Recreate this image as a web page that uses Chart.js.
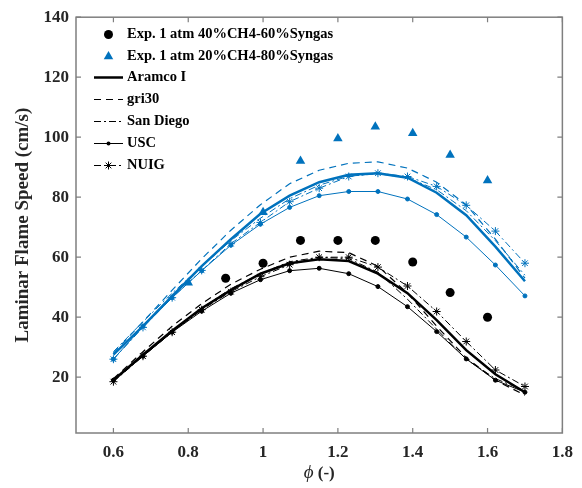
<!DOCTYPE html>
<html lang="en">
<head>
  <meta charset="UTF-8">
  <title>Laminar Flame Speed</title>
  <script src="https://cdn.jsdelivr.net/npm/chart.js"></script>
  <style>
    body {
      margin: 0;
      padding: 0;
      background-color: white;
    }
    #chartBox {
      width: 582px;
      height: 488px;
    }
  </style>
</head>
<body>

<div id="chartBox">
  <canvas id="flameChart" width="582" height="488"></canvas>
</div>

<script>
  // equivalence ratios of the model runs
  var phi = [0.6, 0.679, 0.757, 0.836, 0.914, 0.993, 1.071, 1.15, 1.229, 1.307, 1.386, 1.464, 1.543, 1.621, 1.7];

  // 40%CH4-60%Syngas (black)
  var aramco40 = [19, 27.5, 35.5, 43, 49, 54.5, 58, 59.3, 58.7, 54.5, 48, 39, 29, 21, 15];
  var gri40 = [19.5, 28.5, 37, 44.5, 51, 56, 60, 62, 61.5, 57, 48, 37, 26.5, 19, 14];
  var sanDiego40 = [19, 27.5, 35.5, 43, 49.5, 54.5, 58.5, 60, 59.5, 55, 46, 36, 26, 19.5, 15.5];
  var usc40 = [19, 27, 35, 42, 48, 52.5, 55.5, 56.3, 54.5, 50.2, 43.5, 35.2, 26.1, 19, 15];
  var nuig40 = [18.5, 27, 35, 42.5, 48.5, 53.5, 57.5, 60, 60, 56.7, 50.4, 41.9, 31.9, 22.4, 16.9];

  // 20%CH4-80%Syngas (blue)
  var aramco20 = [27.5, 37, 47, 57, 66, 74.5, 80.5, 85, 87.5, 88, 86.5, 81.5, 74, 63.5, 52];
  var gri20 = [28, 38.5, 49, 59.5, 69, 77.5, 84.5, 89, 91.3, 91.8, 89.7, 85, 77.5, 66, 53];
  var sanDiego20 = [28.5, 38.5, 48, 57, 65.5, 73, 79.5, 84, 87, 87.8, 86.5, 82.5, 75.5, 65.5, 54];
  var usc20 = [26, 37, 46.5, 55.5, 64, 71, 76.6, 80.5, 81.9, 81.9, 79.4, 74.2, 66.7, 57.4, 47.1];
  var nuig20 = [26, 36.6, 46.5, 55.6, 64.5, 71.6, 78.5, 83, 86.9, 88, 86.9, 83.6, 77.3, 68.7, 58];

  // experiments
  var expPhi40 = [0.9, 1.0, 1.1, 1.2, 1.3, 1.4, 1.5, 1.6];
  var exp40 = [53, 58, 65.6, 65.6, 65.6, 58.4, 48.2, 40];
  var expPhi20 = [0.8, 1.0, 1.1, 1.2, 1.3, 1.4, 1.5, 1.6];
  var exp20 = [51.5, 75, 92.1, 99.6, 103.5, 101.3, 94.1, 85.6];

  // tick labels
  var xTicks = [0.6, 0.8, 1.0, 1.2, 1.4, 1.6, 1.8];
  var yTicks = [20, 40, 60, 80, 100, 120, 140];

  var BLACK = '#000000';
  var BLUE = '#0072BD';
  var AXIS = '#7f7f7f';
  var SERIF = '"Liberation Serif", "Times New Roman", serif';
  var DASH = [7, 5];
  var DASHDOT = [7, 3, 2, 3];

  function pts(xs, ys) {
    return xs.map(function (x, i) { return { x: x, y: ys[i] }; });
  }

  function model(data, color, kind) {
    var ds = {
      data: pts(phi, data),
      borderColor: color,
      backgroundColor: color,
      borderWidth: 1,
      pointRadius: 0,
      tension: 0,
      fill: false
    };
    if (kind === 'aramco') ds.borderWidth = 2.5;
    if (kind === 'gri') { ds.borderDash = DASH; ds.borderWidth = 1.2; }
    if (kind === 'sd') ds.borderDash = DASHDOT;
    if (kind === 'usc') { ds.pointRadius = 2; ds.pointStyle = 'circle'; }
    if (kind === 'nuig') {
      ds.borderDash = DASHDOT;
      ds.pointRadius = 4;
      ds.pointStyle = 'star';
      ds.pointBorderWidth = 1;
    }
    return ds;
  }

  var datasets = [
    {
      data: pts(expPhi40, exp40), showLine: false,
      pointStyle: 'circle', pointRadius: 4.5,
      backgroundColor: BLACK, borderColor: BLACK, pointBorderWidth: 0
    },
    {
      data: pts(expPhi20, exp20), showLine: false,
      pointStyle: 'triangle', pointRadius: 5.5,
      backgroundColor: BLUE, borderColor: BLUE, pointBorderWidth: 0
    },
    model(aramco40, BLACK, 'aramco'),
    model(gri40, BLACK, 'gri'),
    model(sanDiego40, BLACK, 'sd'),
    model(usc40, BLACK, 'usc'),
    model(nuig40, BLACK, 'nuig'),
    model(aramco20, BLUE, 'aramco'),
    model(gri20, BLUE, 'gri'),
    model(sanDiego20, BLUE, 'sd'),
    model(usc20, BLUE, 'usc'),
    model(nuig20, BLUE, 'nuig')
  ];

  // box, inward ticks, x title and legend, MATLAB style
  var framePlugin = {
    id: 'frame',
    afterDraw: function (chart) {
      var ctx = chart.ctx;
      var a = chart.chartArea;
      var xs = chart.scales.x;
      var ys = chart.scales.y;
      var tl = 5;

      ctx.save();
      ctx.strokeStyle = AXIS;
      ctx.lineWidth = 1.5;
      ctx.strokeRect(a.left, a.top, a.right - a.left, a.bottom - a.top);
      ctx.lineWidth = 1.2;
      ctx.beginPath();
      xTicks.forEach(function (v) {
        var px = xs.getPixelForValue(v);
        ctx.moveTo(px, a.bottom); ctx.lineTo(px, a.bottom - tl);
        ctx.moveTo(px, a.top); ctx.lineTo(px, a.top + tl);
      });
      yTicks.forEach(function (v) {
        var py = ys.getPixelForValue(v);
        ctx.moveTo(a.left, py); ctx.lineTo(a.left + tl, py);
        ctx.moveTo(a.right, py); ctx.lineTo(a.right - tl, py);
      });
      ctx.stroke();

      // x axis title
      ctx.fillStyle = '#262626';
      ctx.textBaseline = 'alphabetic';
      ctx.font = 'italic 19px ' + SERIF;
      var w1 = ctx.measureText('\u03D5').width;
      ctx.font = 'bold 17px ' + SERIF;
      var w2 = ctx.measureText(' (-)').width;
      var cx = (a.left + a.right) / 2 - (w1 + w2) / 2;
      ctx.textAlign = 'left';
      ctx.font = 'italic 19px ' + SERIF;
      ctx.fillText('\u03D5', cx, 478);
      ctx.font = 'bold 17px ' + SERIF;
      ctx.fillText(' (-)', cx + w1, 478);

      // legend
      var lx0 = 94, lx1 = 123, mx = 108.5, tx = 127;
      ctx.font = 'bold 14.5px ' + SERIF;
      ctx.textBaseline = 'middle';
      ctx.fillStyle = BLACK;

      ctx.beginPath();
      ctx.arc(mx, 34.5, 4.5, 0, Math.PI * 2);
      ctx.fill();
      ctx.fillText('Exp. 1 atm 40%CH4-60%Syngas', tx, 34.5);

      ctx.fillStyle = BLUE;
      Chart.helpers.drawPoint(ctx, { pointStyle: 'triangle', radius: 5.5, borderWidth: 0 }, mx, 56.5);
      ctx.fillStyle = BLACK;
      ctx.fillText('Exp. 1 atm 20%CH4-80%Syngas', tx, 56.5);

      var rows = [
        { label: 'Aramco I', y: 77.5, width: 2.5, dash: [] },
        { label: 'gri30', y: 99.5, width: 1.2, dash: DASH },
        { label: 'San Diego', y: 121.5, width: 1, dash: DASHDOT },
        { label: 'USC', y: 143.5, width: 1, dash: [], marker: 'circle' },
        { label: 'NUIG', y: 165.5, width: 1, dash: DASHDOT, marker: 'star' }
      ];
      rows.forEach(function (r) {
        ctx.strokeStyle = BLACK;
        ctx.fillStyle = BLACK;
        ctx.lineWidth = r.width;
        ctx.setLineDash(r.dash);
        ctx.beginPath();
        ctx.moveTo(lx0, r.y);
        ctx.lineTo(lx1, r.y);
        ctx.stroke();
        ctx.setLineDash([]);
        if (r.marker === 'circle') {
          ctx.beginPath();
          ctx.arc(mx, r.y, 2, 0, Math.PI * 2);
          ctx.fill();
        }
        if (r.marker === 'star') {
          ctx.lineWidth = 1;
          Chart.helpers.drawPoint(ctx, { pointStyle: 'star', radius: 4, borderWidth: 1 }, mx, r.y);
        }
        ctx.fillText(r.label, tx, r.y);
      });
      ctx.restore();
    }
  };

  var ctx = document.getElementById('flameChart').getContext('2d');

  var flameChart = new Chart(ctx, {
    type: 'line',
    data: { datasets: datasets },
    options: {
      responsive: false,
      animation: false,
      layout: { padding: { left: 0, right: 17, top: 15, bottom: 0 } },
      plugins: {
        legend: { display: false },
        tooltip: { enabled: false }
      },
      scales: {
        x: {
          type: 'linear',
          min: 0.5,
          max: 1.8,
          grid: { display: false, drawTicks: false },
          border: { display: false },
          afterBuildTicks: function (scale) {
            scale.ticks = xTicks.map(function (v) { return { value: v }; });
          },
          afterFit: function (scale) { scale.height = 55; },
          ticks: {
            padding: 9,
            color: '#262626',
            font: { family: SERIF, size: 17, weight: 'bold' },
            callback: function (v) { return String(Math.round(v * 10) / 10); }
          }
        },
        y: {
          min: 1.4,
          max: 140,
          grid: { display: false, drawTicks: false },
          border: { display: false },
          afterBuildTicks: function (scale) {
            scale.ticks = yTicks.map(function (v) { return { value: v }; });
          },
          afterFit: function (scale) { scale.width = 76; },
          ticks: {
            padding: 7,
            color: '#262626',
            font: { family: SERIF, size: 17, weight: 'bold' }
          },
          title: {
            display: true,
            text: 'Laminar Flame Speed (cm/s)',
            color: '#262626',
            font: { family: SERIF, size: 19, weight: 'bold' },
            padding: { top: 12, bottom: 0 }
          }
        }
      }
    },
    plugins: [framePlugin]
  });
</script>

</body>
</html>
